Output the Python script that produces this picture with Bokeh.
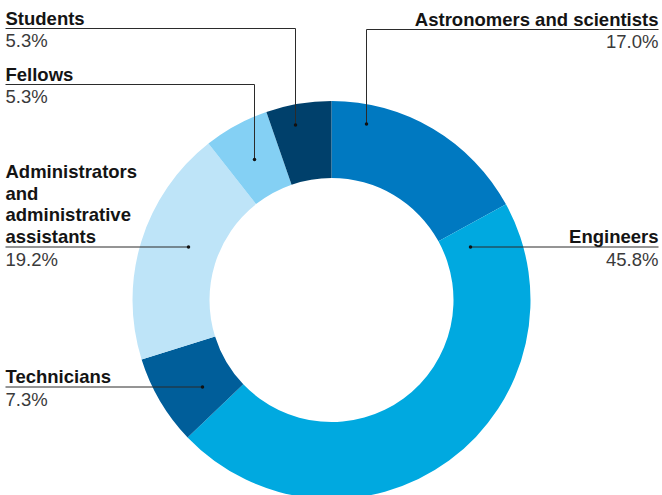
import numpy as np
from bokeh.plotting import figure
from bokeh.models import Range1d, ColumnDataSource
from bokeh.core.properties import value
from bokeh.embed import file_html
from bokeh.resources import INLINE

# ---- data ----
categories = ["Astronomers and scientists", "Engineers", "Technicians",
              "Administrators\nand\nadministrative\nassistants", "Fellows", "Students"]
shares = [17.0, 45.8, 7.3, 19.2, 5.3, 5.3]
pct_labels = ["17.0%", "45.8%", "7.3%", "19.2%", "5.3%", "5.3%"]
colors = ["#0079C1", "#00A9E0", "#005E9A", "#BEE4F8", "#84D0F4", "#00406B"]

# ---- layout (reference pixel coordinates, y downward) ----
CX, CY = 331.0, 299.5
R_OUT, R_IN = 199.0, 122.0
label_side = ["right", "right", "left", "left", "left", "left"]
rule_y = [29.0, 246.5, 386.5, 246.5, 84.0, 28.0]
anchor_x = [366.0, 470.0, 202.0, 188.0, 254.0, 295.0]
anchor_y = [123.5, 246.5, 386.5, 246.5, 159.0, 124.5]
LEFT_X, RIGHT_X = 5.0, 658.0
LINE_H = 21.7

W, H = 662, 495

p = figure(width=W, height=H, output_backend="svg", toolbar_location=None,
           x_range=Range1d(0, W), y_range=Range1d(-H, 0),
           min_border=0)
p.axis.visible = False
p.grid.visible = False
p.outline_line_color = None
p.background_fill_color = "white"

frac = np.array(shares) / np.sum(shares)
cum = np.concatenate([[0], np.cumsum(frac)])
start = np.pi / 2 - 2 * np.pi * cum[:-1]
end = np.pi / 2 - 2 * np.pi * cum[1:]

src = ColumnDataSource(dict(start=start, end=end, color=colors))
p.annular_wedge(x=CX, y=-CY, inner_radius=R_IN, outer_radius=R_OUT,
                start_angle="start", end_angle="end", direction="clock",
                fill_color="color", line_color=None, source=src)

# leader lines
xs, ys = [], []
for side, ry, ax, ay in zip(label_side, rule_y, anchor_x, anchor_y):
    ex = RIGHT_X if side == "right" else LEFT_X
    if abs(ay - ry) > 0.5:
        xs.append([ex, ax, ax]); ys.append([-ry, -ry, -ay])
    else:
        xs.append([ex, ax]); ys.append([-ry, -ry])
p.multi_line(xs=xs, ys=ys, line_color="#2b2b2b", line_width=1)
p.scatter(x=anchor_x, y=[-v for v in anchor_y], size=3.5, color="#111111", line_color=None)

# texts
lx, ly, lt, la = [], [], [], []
px, py, pt, pa = [], [], [], []
for cat, pct, side, ry in zip(categories, pct_labels, label_side, rule_y):
    tx = RIGHT_X if side == "right" else LEFT_X
    lines = cat.split("\n")
    n = len(lines)
    for i, ln in enumerate(lines):
        lx.append(tx); ly.append(-(ry - 10.5 - (n - 1 - i) * LINE_H)); lt.append(ln); la.append(side)
    px.append(tx); py.append(-(ry + 12.0)); pt.append(pct); pa.append(side)

p.text(x=lx, y=ly, text=lt, text_align=la, text_baseline="alphabetic",
       text_font=value("Liberation Sans"), text_font_style="bold",
       text_font_size="18.5px", text_color="#141414")
p.text(x=px, y=py, text=pt, text_align=pa, text_baseline="alphabetic",
       text_font=value("Liberation Sans"), text_font_style="normal",
       text_font_size="18.5px", text_color="#3a3a3a")

open("out.html", "w").write(file_html(p, INLINE))
